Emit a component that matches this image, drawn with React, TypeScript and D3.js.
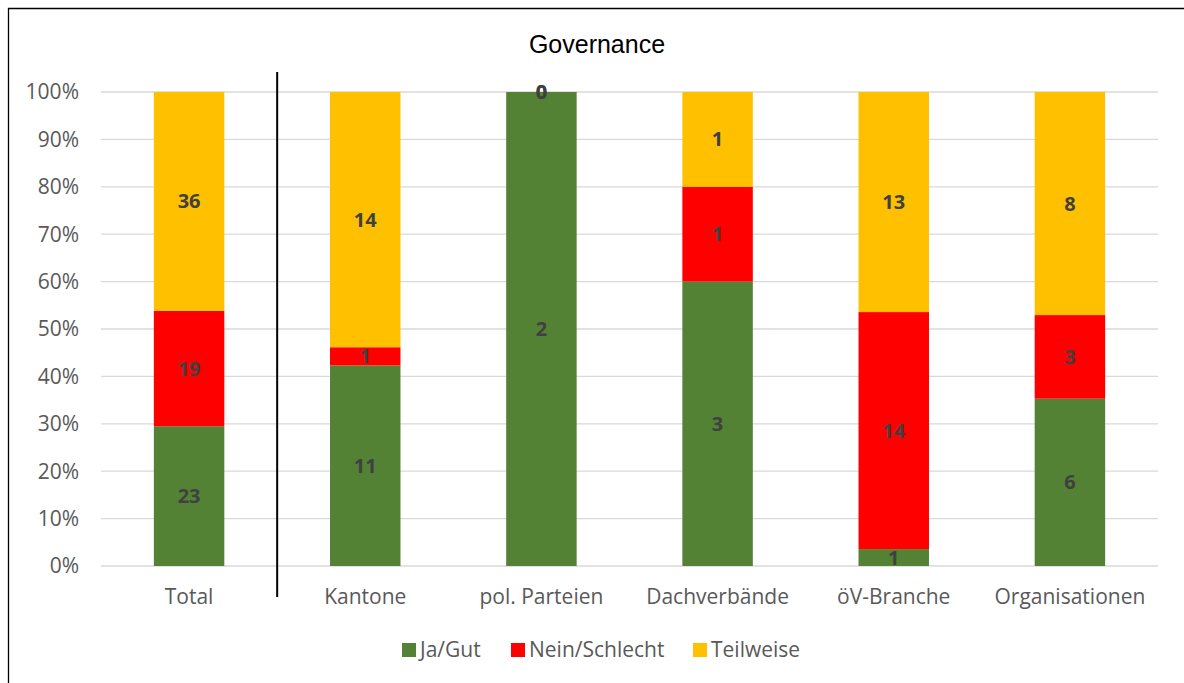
import React from "react";
import * as d3 from "d3";

const categories = ["Total", "Kantone", "pol. Parteien", "Dachverbände", "öV-Branche", "Organisationen"];
const seriesNames = ["Ja/Gut", "Nein/Schlecht", "Teilweise"];
const jaGut = [23, 11, 2, 3, 1, 6];
const neinSchlecht = [19, 1, 0, 1, 14, 3];
const teilweise = [36, 14, 0, 1, 13, 8];
const colors = ["#548235", "#FF0000", "#FFC000"];
const yTicks = [0, 0.1, 0.2, 0.3, 0.4, 0.5, 0.6, 0.7, 0.8, 0.9, 1];

const W = 1184;
const H = 683;
const FONT = "'Open Sans', sans-serif";
const TITLE_FONT = "'Liberation Sans', Arial, sans-serif";

export default function App() {
  const left = 101, right = 1158, top = 92, bottom = 566;
  const x = d3.scaleBand<string>().domain(categories).range([left, right]).paddingInner(0.6).paddingOuter(0.3);
  const y = d3.scaleLinear().domain([0, 1]).range([bottom, top]);
  const rows = categories.map((c, i) => ({ cat: c, a: jaGut[i], b: neinSchlecht[i], c: teilweise[i] }));
  const stack = d3.stack<any>().keys(["a", "b", "c"]).offset(d3.stackOffsetExpand);
  const series = stack(rows);
  const legendItems = [
    { x: 402, tx: 420 },
    { x: 511, tx: 529 },
    { x: 693, tx: 711 },
  ];
  const sepX = (x("Total")! + x.bandwidth() + x("Kantone")!) / 2;
  return (
    <svg width={W} height={H} style={{ position: "absolute", left: 0, top: 0 }}>
      <rect x={0} y={0} width={W} height={H} fill="#fff" />
      <path d={`M8.5,${H}V8.5H${W}`} fill="none" stroke="#000" strokeWidth={1.3} />
      <text x={597} y={53} textAnchor="middle" fontFamily={TITLE_FONT} fontSize={25} fill="#000">Governance</text>
      {yTicks.map((t) => (
        <g key={t}>
          <line x1={left} x2={right} y1={y(t)} y2={y(t)} stroke="#D9D9D9" strokeWidth={1.3} />
          <text x={79} y={y(t)} dy="0.35em" textAnchor="end" fontFamily={FONT} fontSize={21} fill="#595959">
            {d3.format(".0%")(t)}
          </text>
        </g>
      ))}
      {series.map((s, si) => (
        <g key={si}>
          {s.map((d, i) => (
            <rect key={i} x={x(categories[i])} width={x.bandwidth()} y={y(d[1])} height={Math.max(0, y(d[0]) - y(d[1]))} fill={colors[si]} />
          ))}
        </g>
      ))}
      {series.map((s, si) => (
        <g key={"l" + si}>
          {s.map((d, i) => {
            const v = [jaGut, neinSchlecht, teilweise][si][i];
            return (
              <text key={i} x={x(categories[i])! + x.bandwidth() / 2} y={y((d[0] + d[1]) / 2)} dy="0.35em" textAnchor="middle"
                fontFamily={FONT} fontSize={20} fontWeight="bold" fill="#404040">{v}</text>
            );
          })}
        </g>
      ))}
      <line x1={sepX} x2={sepX} y1={72} y2={597} stroke="#000" strokeWidth={2} />
      {categories.map((c) => (
        <text key={c} x={x(c)! + x.bandwidth() / 2} y={597} dy="0.35em" textAnchor="middle" fontFamily={FONT} fontSize={21} fill="#595959">{c}</text>
      ))}
      {seriesNames.map((n, i) => (
        <g key={n}>
          <rect x={legendItems[i].x} y={643} width={14} height={14} fill={colors[i]} />
          <text x={legendItems[i].tx} y={650} dy="0.35em" fontFamily={FONT} fontSize={21} fill="#595959">{n}</text>
        </g>
      ))}
    </svg>
  );
}
